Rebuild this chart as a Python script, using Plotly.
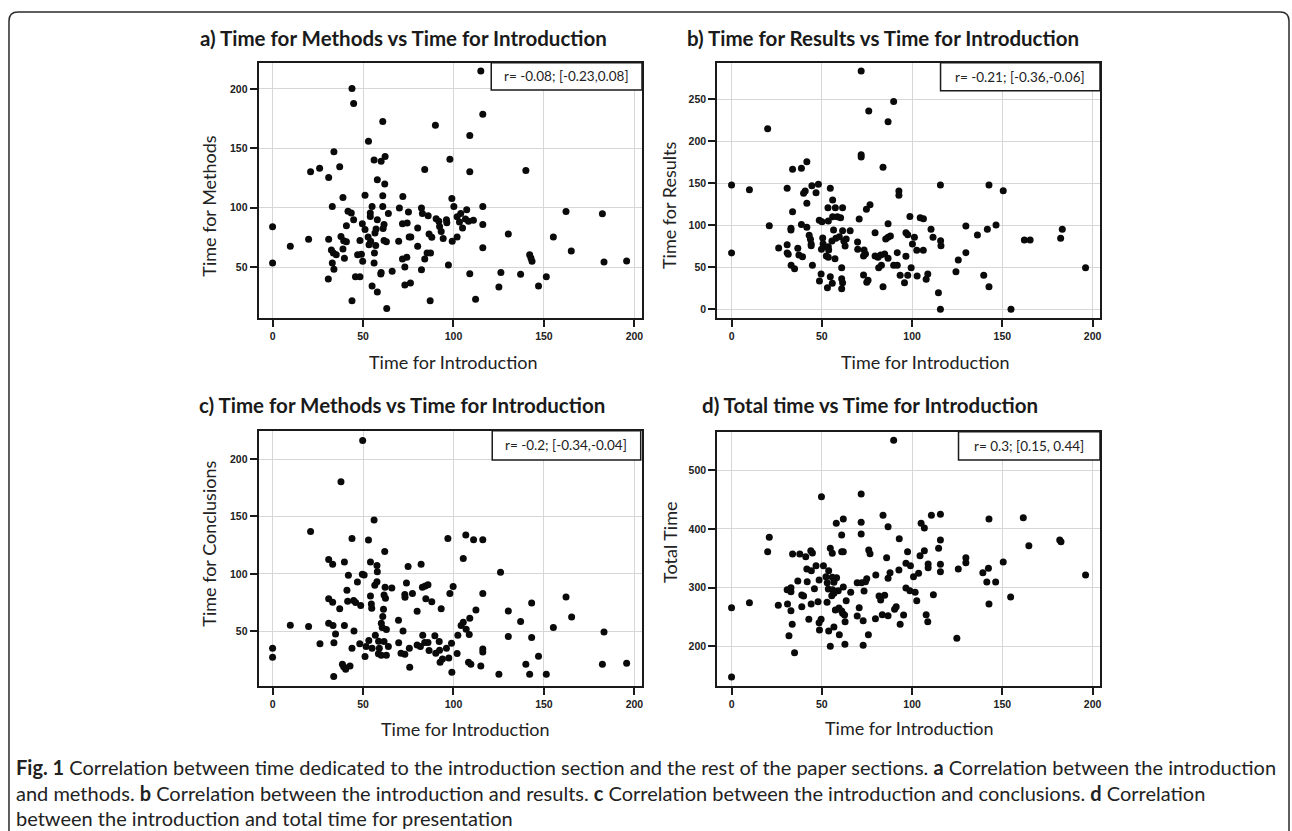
import plotly.graph_objects as go

W, H = 1292, 831

# ---------------- data ----------------
intro_a = [115.1, 43.9, 44.8, 60.9, 90.0, 116.2, 109.0, 53.0, 33.9, 56.1, 60.0, 62.2, 98.0, 37.1, 26.0,
           21.0, 31.0, 84.1, 109.0, 140.0, 57.9, 62.0, 51.1, 60.9, 72.0, 38.9, 99.1, 33.0, 55.0, 60.9,
           70.1, 82.3, 100.2, 116.2, 107.3, 41.7, 43.5, 54.0, 64.0, 75.1, 82.8, 86.0, 104.0, 102.0, 162.2,
           182.3, 54.0, 44.8, 57.9, 90.4, 91.9, 96.1, 96.3, 106.6, 108.3, 111.0, 103.3, 0.0, 40.8, 49.6,
           61.6, 71.8, 74.4, 51.1, 57.2, 61.1, 80.2, 92.3, 93.2, 105.0, 116.2, 56.6, 86.5, 130.3, 37.8,
           52.8, 75.5, 76.4, 88.0, 94.3, 102.0, 155.2, 19.9, 31.0, 39.3, 40.8, 48.3, 54.2, 61.6, 62.9,
           69.7, 99.3, 9.8, 53.3, 57.0, 80.2, 116.2, 32.5, 38.9, 33.6, 35.2, 47.0, 49.1, 56.3, 85.4,
           87.3, 142.1, 165.1, 39.7, 71.8, 74.2, 84.1, 142.8, 143.4, 0.0, 33.0, 49.8, 56.1, 183.2, 97.2,
           73.1, 33.9, 82.3, 60.0, 59.8, 66.1, 109.0, 126.2, 137.1, 30.8, 45.8, 48.3, 151.3, 73.1, 76.2,
           55.0, 125.1, 147.0, 57.9, 43.9, 87.1, 112.2, 63.1, 195.7]
methods_a = [215.1, 200.3, 187.7, 172.5, 169.5, 178.7, 160.8, 156.0, 147.1, 140.3, 139.2, 143.1, 140.9, 134.5, 133.3,
             130.3, 125.5, 132.2, 130.3, 131.4, 123.5, 119.9, 110.6, 110.1, 109.5, 108.7, 107.8, 101.1, 101.1, 101.1,
             99.7, 99.7, 101.1, 101.1, 98.3, 97.0, 95.5, 95.5, 95.2, 96.4, 95.2, 93.3, 95.2, 92.4, 96.9,
             94.9, 92.7, 89.9, 89.9, 90.8, 88.6, 89.9, 87.4, 90.5, 88.6, 89.4, 88.0, 84.0, 84.9, 86.6,
             85.8, 86.6, 87.1, 81.6, 82.1, 82.6, 82.9, 84.3, 80.1, 82.9, 85.8, 78.7, 77.9, 77.9, 75.9,
             75.4, 75.4, 75.4, 75.1, 74.2, 75.4, 75.4, 73.4, 73.4, 72.3, 71.4, 72.5, 71.7, 72.5, 71.4,
             71.7, 71.7, 67.5, 68.9, 68.3, 67.5, 66.4, 64.4, 65.3, 61.9, 60.5, 60.5, 60.8, 61.9, 61.9,
             61.9, 60.5, 63.6, 57.4, 56.9, 58.3, 56.9, 57.7, 54.9, 53.5, 53.5, 54.9, 53.5, 54.3, 51.8,
             50.1, 48.2, 47.9, 45.4, 44.3, 46.5, 44.5, 45.6, 44.0, 40.1, 42.0, 42.0, 42.0, 35.0, 36.7,
             34.2, 33.3, 34.2, 29.1, 21.8, 21.8, 23.0, 15.1, 55.2]

intro_b = [71.8, 89.8, 76.0, 86.7, 20.0, 71.8, 71.8, 83.9, 41.7, 33.8, 38.7, 0.0, 9.9, 30.8, 39.9,
           40.8, 44.5, 46.8, 48.1, 54.7, 56.0, 92.7, 92.7, 115.7, 41.7, 33.8, 53.4, 57.5, 61.5, 76.7,
           74.7, 56.0, 58.6, 60.4, 98.8, 104.5, 106.3, 70.7, 48.6, 50.1, 53.6, 20.9, 38.7, 41.7, 86.7,
           129.8, 146.5, 32.9, 32.9, 56.5, 61.5, 65.7, 110.5, 141.7, 79.5, 96.6, 97.6, 43.0, 50.5, 57.8,
           59.7, 86.7, 88.0, 101.3, 111.6, 43.7, 55.6, 62.2, 63.5, 69.8, 85.4, 136.2, 115.8, 44.1, 50.7,
           30.8, 44.1, 26.1, 51.0, 53.6, 62.9, 116.0, 69.9, 36.7, 73.4, 100.2, 102.6, 106.2, 49.8, 53.8,
           30.8, 31.4, 0.0, 37.3, 39.3, 52.5, 53.6, 57.3, 73.1, 74.2, 79.5, 82.6, 84.8, 81.1, 86.7,
           91.8, 96.6, 129.8, 125.6, 33.0, 34.9, 44.8, 61.0, 81.5, 83.0, 89.8, 91.8, 99.5, 49.6, 48.7,
           54.7, 55.8, 53.1, 61.0, 61.5, 61.0, 73.1, 74.9, 75.6, 83.9, 93.4, 95.8, 97.6, 102.8, 107.8,
           108.7, 124.3, 139.7, 142.6, 114.6, 115.7, 154.8, 142.6, 150.5, 162.2, 165.4, 183.2, 182.3, 196.1]
results_b = [283.3, 247.2, 235.7, 223.1, 214.7, 183.8, 181.1, 168.8, 175.5, 166.4, 167.6, 147.8, 142.2, 143.8, 137.9,
             140.7, 147.0, 138.7, 148.6, 143.8, 130.0, 140.7, 135.5, 147.8, 126.0, 116.1, 120.8, 120.8, 120.8, 124.4,
             118.9, 110.1, 110.1, 109.0, 110.5, 109.0, 107.8, 107.4, 105.8, 104.2, 105.0, 99.4, 101.0, 97.5, 101.8,
             99.0, 100.2, 96.3, 94.3, 94.3, 93.5, 93.5, 95.1, 95.1, 91.1, 91.1, 88.7, 88.0, 84.8, 84.4,
             86.4, 85.6, 87.2, 85.6, 85.6, 83.2, 81.2, 81.2, 83.6, 80.0, 83.6, 88.4, 81.6, 77.7, 78.1,
             76.9, 75.7, 72.9, 74.5, 74.5, 75.3, 75.7, 71.3, 72.5, 70.5, 77.7, 70.1, 70.1, 71.3, 70.5,
             67.0, 65.4, 67.0, 64.6, 62.6, 63.4, 61.8, 60.2, 63.4, 65.8, 63.4, 64.6, 65.8, 61.8, 60.6,
             67.4, 63.0, 67.4, 58.6, 52.3, 48.3, 52.3, 49.5, 49.5, 52.3, 52.3, 52.3, 49.5, 42.0, 33.7,
             38.8, 30.9, 25.8, 36.5, 31.7, 24.6, 40.8, 32.1, 34.5, 26.9, 40.4, 31.7, 40.4, 39.6, 35.7,
             42.0, 44.8, 40.4, 26.9, 19.8, 0.0, 0.0, 147.8, 141.0, 82.4, 82.4, 95.1, 84.4, 49.5]

intro_c = [49.8, 37.8, 21.0, 56.1, 43.9, 53.0, 96.9, 106.8, 111.1, 116.2, 62.0, 105.4, 31.0, 33.2, 39.7,
           54.1, 57.7, 74.9, 82.1, 57.9, 126.0, 41.9, 49.6, 50.6, 46.9, 56.5, 57.7, 62.2, 65.9, 74.0,
           82.8, 84.4, 85.9, 99.8, 41.1, 54.1, 61.6, 62.4, 73.1, 73.2, 77.3, 98.0, 116.2, 84.7, 162.2,
           31.0, 33.2, 41.5, 44.8, 45.9, 48.7, 54.6, 54.8, 88.0, 143.2, 37.1, 61.3, 93.2, 112.4, 130.3,
           79.9, 60.9, 165.3, 109.0, 69.6, 105.4, 137.1, 60.1, 104.2, 9.8, 19.9, 31.0, 33.4, 39.7, 155.2,
           60.6, 62.9, 107.0, 45.0, 72.1, 183.2, 34.8, 56.8, 83.0, 108.7, 89.7, 102.4, 26.2, 33.9, 48.2,
           53.2, 58.6, 61.6, 69.7, 79.9, 84.1, 85.9, 92.1, 98.9, 130.3, 143.2, 43.9, 51.7, 55.0, 59.0,
           64.0, 75.6, 81.7, 86.5, 92.3, 96.1, 116.2, 0.0, 116.2, 51.1, 58.5, 60.1, 62.9, 71.0, 73.1,
           90.2, 102.0, 0.0, 92.6, 97.4, 93.9, 147.0, 108.3, 109.6, 115.1, 140.0, 182.3, 38.6, 39.3, 42.8,
           40.4, 75.8, 99.1, 125.1, 142.1, 151.3, 33.8, 195.7]
concl_c = [216.2, 180.3, 136.8, 146.9, 130.7, 129.5, 130.7, 133.9, 129.8, 129.8, 119.4, 113.3, 112.4, 108.3, 110.4,
           110.4, 107.2, 106.3, 108.3, 101.9, 101.4, 98.8, 99.7, 99.0, 92.9, 90.0, 93.2, 88.3, 87.7, 92.1,
           88.3, 89.5, 90.6, 88.9, 85.7, 80.8, 81.6, 78.7, 81.9, 79.6, 82.8, 82.8, 82.8, 78.2, 79.9,
           78.2, 75.3, 76.1, 76.7, 75.0, 72.4, 73.8, 70.0, 75.8, 74.7, 69.7, 69.2, 69.7, 68.6, 67.7,
           67.4, 62.8, 62.5, 61.3, 59.6, 57.9, 58.4, 57.0, 54.9, 55.2, 54.1, 57.0, 54.9, 54.9, 53.2,
           53.2, 51.5, 51.8, 50.3, 50.3, 49.4, 47.7, 46.5, 46.5, 47.1, 46.0, 46.5, 39.0, 39.9, 39.0,
           41.9, 41.3, 41.0, 39.9, 38.1, 40.1, 40.1, 41.0, 39.6, 45.4, 44.5, 35.1, 36.7, 35.1, 35.1,
           36.7, 35.2, 36.7, 33.2, 33.5, 35.1, 34.5, 35.1, 32.0, 28.0, 30.3, 29.1, 29.1, 30.9, 30.0,
           30.9, 30.6, 27.4, 23.0, 26.8, 25.9, 28.3, 23.0, 21.3, 19.8, 21.3, 21.3, 21.3, 19.0, 19.8,
           16.9, 18.7, 14.3, 12.6, 12.6, 12.6, 10.6, 22.2]

intro_d = [89.8, 71.8, 49.8, 83.9, 110.7, 115.7, 161.6, 142.6, 61.9, 58.0, 71.8, 105.0, 106.8, 86.7, 61.0,
           71.8, 20.9, 92.9, 115.7, 181.8, 182.5, 164.7, 20.0, 33.8, 37.8, 43.9, 44.8, 41.1, 54.7, 55.8,
           61.0, 61.9, 76.0, 76.7, 85.9, 97.5, 106.8, 104.4, 114.7, 129.8, 129.8, 150.5, 41.7, 44.2, 46.8,
           50.9, 53.8, 96.6, 99.1, 108.9, 108.9, 115.7, 115.7, 92.7, 87.8, 103.6, 100.8, 125.6, 139.2, 142.3,
           79.9, 86.7, 36.7, 41.9, 48.5, 52.3, 55.8, 57.1, 58.2, 53.0, 56.7, 69.6, 72.0, 74.2, 74.9,
           141.4, 146.3, 30.8, 32.9, 45.9, 53.6, 56.0, 59.1, 61.9, 66.0, 73.4, 96.6, 98.8, 101.7, 38.9,
           39.9, 55.5, 56.7, 81.7, 84.8, 111.8, 154.6, 82.6, 25.9, 31.0, 52.9, 63.5, 102.6, 142.6, 9.9,
           0.0, 44.1, 47.9, 32.9, 38.9, 57.5, 59.5, 61.0, 70.7, 61.5, 62.6, 90.3, 91.2, 83.5, 86.7,
           69.6, 95.3, 107.8, 42.8, 49.6, 79.7, 62.9, 72.9, 108.7, 33.6, 48.5, 56.7, 93.4, 48.7, 53.8,
           31.8, 59.7, 75.8, 124.8, 54.7, 62.8, 72.9, 34.9, 0.0, 32.9, 196.1]
total_d = [551.1, 459.7, 455.1, 423.3, 423.3, 425.0, 419.3, 417.0, 417.0, 409.7, 411.4, 409.7, 401.7, 404.0, 389.8,
           391.5, 385.8, 383.5, 381.3, 381.3, 378.4, 371.6, 361.4, 357.4, 357.4, 363.1, 359.1, 352.8, 367.0, 358.5,
           361.4, 361.4, 364.2, 358.0, 351.1, 361.4, 363.1, 354.5, 367.0, 351.1, 342.6, 343.8, 331.8, 329.0, 337.5,
           337.5, 329.0, 341.5, 337.5, 340.3, 334.1, 339.8, 327.3, 330.1, 325.6, 324.4, 318.8, 331.8, 325.6, 333.0,
           321.6, 315.9, 311.4, 310.2, 313.1, 318.8, 317.6, 314.8, 317.0, 308.5, 309.1, 308.5, 308.5, 310.2, 315.3,
           309.7, 309.7, 296.6, 300.0, 298.3, 297.7, 296.6, 294.9, 301.1, 292.0, 294.3, 299.4, 294.9, 292.0, 287.5,
           285.8, 286.4, 290.3, 285.8, 286.9, 288.1, 284.1, 279.0, 269.9, 272.2, 275.0, 277.8, 277.8, 272.2, 274.4,
           265.9, 272.2, 276.1, 260.8, 267.6, 261.9, 265.3, 260.2, 265.9, 256.3, 253.4, 263.1, 267.6, 254.0, 252.3,
           251.7, 253.4, 254.0, 246.0, 246.0, 247.2, 242.0, 243.8, 242.0, 237.5, 240.3, 233.0, 237.5, 227.8, 226.1,
           218.2, 219.9, 219.9, 213.6, 200.0, 203.4, 201.7, 189.2, 147.7, 293.2, 321.6]

x_ticks = [0, 50, 100, 150, 200]
y_ticks_a = [50, 100, 150, 200]
y_ticks_b = [0, 50, 100, 150, 200, 250]
y_ticks_c = [50, 100, 150, 200]
y_ticks_d = [200, 300, 400, 500]

titles = ["a) Time for Methods vs Time for Introduction",
          "b) Time for Results vs Time for Introduction",
          "c) Time for Methods vs Time for Introduction",
          "d) Total time vs Time for Introduction"]
y_titles = ["Time for Methods", "Time for Results", "Time for Conclusions", "Total Time"]
x_title = "Time for Introduction"
r_texts = ["r= -0.08; [-0.23,0.08]", "r= -0.21; [-0.36,-0.06]", "r= -0.2; [-0.34,-0.04]", "r= 0.3; [0.15, 0.44]"]

# ---------------- layout helpers ----------------
def px(x):
    return x / W


def py(y):
    return 1 - y / H


FONT = "Lato, 'Open Sans', sans-serif"

# panel frames in pixels: (left, top, right, bottom)
frames = [(259, 62.7, 643, 318), (718.3, 62.7, 1101.7, 318),
          (259, 430.7, 643, 686), (718.3, 431.7, 1101.7, 686)]
x_ranges = [[-7.73, 204.2], [-7.96, 204.1], [-7.73, 204.2], [-7.96, 204.1]]
y_ranges = [[7.2, 222.1], [-10.3, 293.2], [2.3, 224.7], [132.4, 565.8]]
y_tick_sets = [y_ticks_a, y_ticks_b, y_ticks_c, y_ticks_d]
xs = [intro_a, intro_b, intro_c, intro_d]
ys = [methods_a, results_b, concl_c, total_d]

fig = go.Figure()
layout = dict(width=W, height=H, margin=dict(l=0, r=0, t=0, b=0),
              paper_bgcolor="white", plot_bgcolor="white", showlegend=False)

for i in range(4):
    n = "" if i == 0 else str(i + 1)
    l, t, r, b = frames[i]
    fig.add_trace(go.Scatter(x=xs[i], y=ys[i], mode="markers",
                             marker=dict(color="#0a0a0a", size=7, line=dict(width=0)),
                             xaxis="x" + n, yaxis="y" + n, hoverinfo="x+y"))
    common = dict(showgrid=True, gridcolor="#d6d6d6", gridwidth=1, zeroline=False,
                  showline=True, linecolor="#1a1a1a", linewidth=2, mirror=True,
                  ticks="outside", ticklen=7, tickwidth=1.5, tickcolor="#1a1a1a",
                  tickfont=dict(family="'Liberation Sans', Arial, sans-serif", size=10.5,
                                color="#222", weight="bold"))
    layout["xaxis" + n] = dict(domain=[px(l), px(r)], range=x_ranges[i], tickvals=x_ticks,
                               anchor="y" + n, **common)
    layout["yaxis" + n] = dict(domain=[py(b), py(t)], range=y_ranges[i], tickvals=y_tick_sets[i],
                               anchor="x" + n, **common)

fig.update_layout(**layout)

annotations = []
shapes = []

# panel titles
title_pos = [(404, 38), (884, 38), (403, 405), (871, 405)]
for (cx, cy), txt in zip(title_pos, titles):
    annotations.append(dict(x=px(cx), y=py(cy), xref="paper", yref="paper", text="<b>" + txt + "</b>",
                            showarrow=False, xanchor="center", yanchor="middle",
                            font=dict(family=FONT, size=20.5, color="#1a1a1a")))

# axis titles
xt_pos = [(454, 362), (927, 362), (466, 729), (911, 728)]
for cx, cy in xt_pos:
    annotations.append(dict(x=px(cx), y=py(cy), xref="paper", yref="paper", text=x_title,
                            showarrow=False, xanchor="center", yanchor="middle",
                            font=dict(family=FONT, size=18, color="#222")))
yt_pos = [(209, 206), (670, 205), (209, 544), (671, 542)]
for (cx, cy), txt in zip(yt_pos, y_titles):
    annotations.append(dict(x=px(cx), y=py(cy), xref="paper", yref="paper", text=txt, textangle=-90,
                            showarrow=False, xanchor="center", yanchor="middle",
                            font=dict(family=FONT, size=18, color="#222")))

# correlation boxes
boxes = [(492, 62.7, 643, 90), (942, 62.7, 1101.7, 90.7), (493, 430.7, 641.7, 460), (960, 431.7, 1101.7, 460)]
for (x0, y0, x1, y1), txt in zip(boxes, r_texts):
    shapes.append(dict(type="rect", xref="paper", yref="paper", x0=px(x0), x1=px(x1), y0=py(y1), y1=py(y0),
                       line=dict(color="#1a1a1a", width=1.5), fillcolor="white", layer="above"))
    annotations.append(dict(x=px((x0 + x1) / 2), y=py((y0 + y1) / 2), xref="paper", yref="paper", text=txt,
                            showarrow=False, xanchor="center", yanchor="middle",
                            font=dict(family=FONT, size=13.5, color="#222")))

# outer rounded border
L, T, R, B, rad = 9, 12, 1291, 845, 9
path = (f"M {px(L)},{py(B)} L {px(L)},{py(T + rad)} Q {px(L)},{py(T)} {px(L + rad)},{py(T)} "
        f"L {px(R - rad)},{py(T)} Q {px(R)},{py(T)} {px(R)},{py(T + rad)} L {px(R)},{py(B)}")
shapes.append(dict(type="path", xref="paper", yref="paper", path=path,
                   line=dict(color="#2a2a2a", width=1.5), layer="above"))

# caption
cap_lines = [
    "<b>Fig. 1</b> Correlation between time dedicated to the introduction section and the rest of the paper sections. "
    "<b>a</b> Correlation between the introduction",
    "and methods. <b>b</b> Correlation between the introduction and results. <b>c</b> Correlation between the "
    "introduction and conclusions. <b>d</b> Correlation",
    "between the introduction and total time for presentation",
]
for k, line in enumerate(cap_lines):
    annotations.append(dict(x=px(14), y=py(767 + 25.5 * k), xref="paper", yref="paper", text=line,
                            showarrow=False, xanchor="left", yanchor="middle",
                            font=dict(family=FONT, size=20, color="#222")))

fig.update_layout(annotations=annotations, shapes=shapes)
fig.write_html("out.html", config={"displayModeBar": False},
               post_script="document.body.style.margin='0';document.body.style.overflow='hidden';")
